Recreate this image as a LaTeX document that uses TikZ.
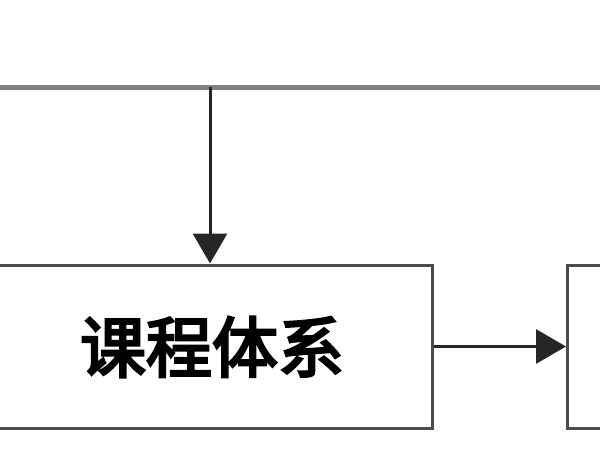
\documentclass[tikz,border=0pt]{standalone}
\usepackage{fontspec}
\newfontfamily\cjk[FakeBold=4]{Noto Sans CJK SC}
\usetikzlibrary{arrows.meta}
\begin{document}
\begin{tikzpicture}[x=1pt,y=-1pt,
  boxs/.style={draw=black!70,line width=3pt,inner sep=0pt},
  arr/.style={draw=black!85,line width=3pt,-{Triangle[length=30pt,width=34pt]}}]
\useasboundingbox (0,0) rectangle (600,450);
\fill[white] (0,0) rectangle (600,450);
\draw[black!50,line width=5pt] (-5,87) -- (605,87);
\coordinate (t) at (210,87);
\node[boxs,minimum width=437pt,minimum height=163pt] (a) at (213.5,346.5) {};
\node[font=\cjk\fontsize{66}{70}\selectfont] at (212,347) {课程体系};
\node[boxs,minimum width=80pt,minimum height=163pt,anchor=west] (b) at (566,346.5) {};
\draw[arr] (t) -- (t|-a.north);
\draw[arr] (a.east) -- (b.west);
\end{tikzpicture}
\end{document}
